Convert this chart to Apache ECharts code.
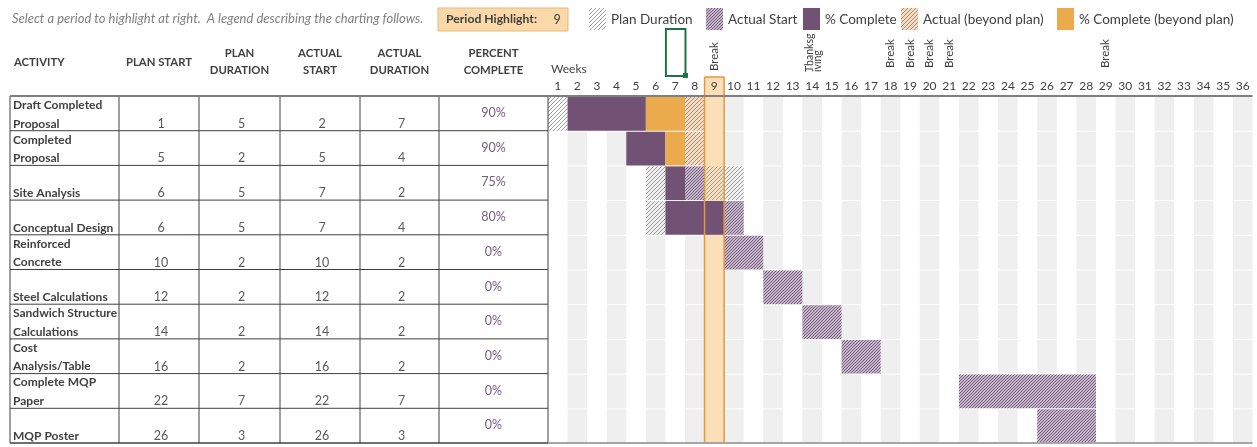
<!DOCTYPE html>
<html>
<head>
<meta charset="utf-8">
<script src="https://cdn.jsdelivr.net/npm/echarts/dist/echarts.min.js"></script>
<style>
  html, body { margin: 0; padding: 0; background: #fff; }
  #main { width: 1257px; height: 447px; }
</style>
</head>
<body>
<div id="main"></div>
<script>
// data
const activities = ['Draft Completed\nProposal', 'Completed\nProposal', 'Site Analysis', 'Conceptual Design',
  'Reinforced\nConcrete', 'Steel Calculations', 'Sandwich Structure\nCalculations', 'Cost\nAnalysis/Table',
  'Complete MQP\nPaper', 'MQP Poster'];
const planStart = [1, 5, 6, 6, 10, 12, 14, 16, 22, 26];
const planDuration = [5, 2, 5, 5, 2, 2, 2, 2, 7, 3];
const actualStart = [2, 5, 7, 7, 10, 12, 14, 16, 22, 26];
const actualDuration = [7, 4, 2, 4, 2, 2, 2, 2, 7, 3];
const percentComplete = [90, 90, 75, 80, 0, 0, 0, 0, 0, 0];
const weeks = ['1', '2', '3', '4', '5', '6', '7', '8', '9', '10', '11', '12', '13', '14', '15', '16', '17', '18',
  '19', '20', '21', '22', '23', '24', '25', '26', '27', '28', '29', '30', '31', '32', '33', '34', '35', '36'];
const noteWeeks = [9, 14, 18, 19, 20, 21, 29];
const noteTexts = ['Break', 'Thanksg\niving', 'Break', 'Break', 'Break', 'Break', 'Break'];
const periodHighlight = 9;

const FONT = 'Lato, "Liberation Sans", sans-serif';
const TXT = '#404040';
const PURPLE = '#715174';
const ORANGE = '#ebaa4c';

//斜线填充
function hatch(bg, line, step, lw) {
  const c = document.createElement('canvas');
  c.width = step; c.height = step;
  const g = c.getContext('2d');
  if (bg) { g.fillStyle = bg; g.fillRect(0, 0, step, step); }
  g.strokeStyle = line;
  g.lineWidth = lw;
  g.beginPath();
  g.moveTo(-1, step + 1); g.lineTo(step + 1, -1);
  g.moveTo(-1, 1); g.lineTo(1, -1);
  g.moveTo(step - 1, step + 1); g.lineTo(step + 1, step - 1);
  g.stroke();
  return { image: c, repeat: 'repeat' };
}
const planFill = hatch(null, '#9b9b9b', 4, 1);
const actualFill = hatch('#c6b7ca', '#755c7e', 3, 1);
const beyondFill = hatch('#f3dcc2', '#a98b76', 4, 1);

// which kind of cell a week is for a row
function cellType(r, w) {
  const inPlan = w >= planStart[r] && w < planStart[r] + planDuration[r];
  const inActual = w >= actualStart[r] && w < actualStart[r] + actualDuration[r];
  const done = inActual && w + 1 <= actualStart[r] + actualDuration[r] * percentComplete[r] / 100 + 1e-9;
  if (done) return inPlan ? 'complete' : 'completeBeyond';
  if (inActual) return inPlan ? 'actual' : 'actualBeyond';
  if (inPlan) return 'plan';
  return null;
}

// merge consecutive cells into spans [weekIndex, row, length]
const spans = { plan: [], actual: [], complete: [], actualBeyond: [], completeBeyond: [] };
activities.forEach(function (a, r) {
  let cur = null;
  weeks.forEach(function (wk, i) {
    const t = cellType(r, i + 1);
    if (cur && cur.t === t) { cur.len++; return; }
    if (cur && cur.t) spans[cur.t].push([cur.i, r, cur.len]);
    cur = { t: t, i: i, len: 1 };
  });
  if (cur && cur.t) spans[cur.t].push([cur.i, r, cur.len]);
});

// grey stripes on even weeks
const stripes = [];
weeks.forEach(function (wk, i) {
  if ((i + 1) % 2 === 0) activities.forEach(function (a, r) { stripes.push([i, r, 1]); });
});

function spanItem(fill) {
  return function (params, api) {
    const c = api.coord([api.value(0), api.value(1)]);
    const s = api.size([1, 1]);
    return {
      type: 'rect',
      shape: { x: c[0] - s[0] / 2, y: c[1] - s[1] / 2 + 1, width: s[0] * api.value(2), height: s[1] - 1 },
      style: { fill: fill }
    };
  };
}

const option = {
  animation: false,
  textStyle: { fontFamily: FONT },
  grid: { left: 548, right: 4.5, top: 96, bottom: 4 },
  xAxis: {
    type: 'category', data: weeks, position: 'top', z: 10,
    axisLine: { show: false }, axisTick: { show: false }, splitLine: { show: false },
    axisLabel: { color: TXT, fontSize: 12, fontFamily: FONT, margin: 4, interval: 0 }
  },
  yAxis: { type: 'category', data: activities, inverse: true, show: false },
  series: [
    { type: 'custom', name: 'stripes', z: 1, renderItem: spanItem('#efefef'), data: stripes, encode: { x: 0, y: 1 } },
    {
      type: 'custom', name: 'highlight', z: 1, clip: false, data: [[periodHighlight - 1, 0]], encode: { x: 0, y: 1 },
      renderItem: function (params, api) {
        const cs = params.coordSys;
        const x = api.coord([api.value(0), 0])[0];
        const w = api.size([1, 1])[0];
        return { type: 'rect', shape: { x: x - w / 2, y: cs.y - 19, width: w, height: cs.height + 19 }, style: { fill: '#fcdfb8' } };
      }
    },
    { type: 'custom', name: 'Plan Duration', z: 2, renderItem: spanItem(planFill), data: spans.plan, encode: { x: 0, y: 1 } },
    { type: 'custom', name: 'Actual Start', z: 2, renderItem: spanItem(actualFill), data: spans.actual, encode: { x: 0, y: 1 } },
    { type: 'custom', name: '% Complete', z: 2, renderItem: spanItem(PURPLE), data: spans.complete, encode: { x: 0, y: 1 } },
    { type: 'custom', name: 'Actual (beyond plan)', z: 2, renderItem: spanItem(beyondFill), data: spans.actualBeyond, encode: { x: 0, y: 1 } },
    { type: 'custom', name: '% Complete (beyond plan)', z: 2, renderItem: spanItem(ORANGE), data: spans.completeBeyond, encode: { x: 0, y: 1 } },
    {
      type: 'custom', name: 'highlightBorder', z: 3, clip: false, data: [[periodHighlight - 1, 0]], encode: { x: 0, y: 1 },
      renderItem: function (params, api) {
        const cs = params.coordSys;
        const x = api.coord([api.value(0), 0])[0];
        const w = api.size([1, 1])[0];
        const st = { stroke: '#e29a3c', lineWidth: 1.5 };
        return {
          type: 'group', children: [
            { type: 'line', shape: { x1: x - w / 2, y1: cs.y - 19, x2: x - w / 2, y2: cs.y + cs.height }, style: st },
            { type: 'line', shape: { x1: x + w / 2, y1: cs.y - 19, x2: x + w / 2, y2: cs.y + cs.height }, style: st },
            { type: 'line', shape: { x1: x - w / 2, y1: cs.y - 19, x2: x + w / 2, y2: cs.y - 19 }, style: st }
          ]
        };
      }
    }
  ]
};

const myChart = echarts.init(document.getElementById('main'));
myChart.setOption(option);

// table, legend and header notes placed from the axes
function txt(x, y, text, o) {
  o = o || {};
  return {
    type: 'text', x: x, y: y, rotation: o.rotation || 0, z: 20,
    style: {
      text: text, fill: o.fill || TXT, fontFamily: FONT, fontSize: o.size || 12,
      fontWeight: o.bold ? 'bold' : 'normal', fontStyle: o.italic ? 'italic' : 'normal',
      align: o.align || 'left', verticalAlign: o.va || 'middle', lineHeight: o.lh
    }
  };
}
function line(x1, y1, x2, y2, color, w) {
  return { type: 'line', z: 20, shape: { x1: x1, y1: y1, x2: x2, y2: y2 }, style: { stroke: color, lineWidth: w || 1 } };
}
function rect(x, y, w, h, fill, stroke) {
  return { type: 'rect', z: 20, shape: { x: x, y: y, width: w, height: h }, style: { fill: fill, stroke: stroke || null } };
}

const rowC = function (i) { return myChart.convertToPixel({ yAxisIndex: 0 }, i); };
const weekC = function (w) { return myChart.convertToPixel({ xAxisIndex: 0 }, w - 1); };
const rowH = rowC(1) - rowC(0);
const gridTop = rowC(0) - rowH / 2;
const gridBottom = rowC(activities.length - 1) + rowH / 2;
const weekW = weekC(2) - weekC(1);
const chartRight = weekC(weeks.length) + weekW / 2;

const colX = [10, 119, 199, 280, 360, 439, 548];
const colMid = [14, 159, 239.5, 320, 399.5, 493.5];
const g = [];

// hint + period highlight
g.push(txt(12, 19, 'Select a period to highlight at right.  A legend describing the charting follows.', { italic: true, fill: '#7f7f7f', size: 13 }));
g.push(rect(438, 8, 130, 23, '#fbd8a8', '#eab77a'));
g.push(txt(446, 19.5, 'Period Highlight:', { bold: true, size: 12.2 }));
g.push(txt(557, 19.5, String(periodHighlight), { align: 'center', size: 12.5 }));

// legend
const legendItems = [
  [589, planFill, 'Plan Duration'], [706, actualFill, 'Actual Start'], [803, PURPLE, '% Complete'],
  [901, beyondFill, 'Actual (beyond plan)'], [1057, ORANGE, '% Complete (beyond plan)']
];
legendItems.forEach(function (it) {
  g.push(rect(it[0], 8, 17, 22, it[1]));
  g.push(txt(it[0] + 22, 19.5, it[2], { size: 13.5 }));
});

// excel selection box
g.push({ type: 'rect', z: 20, shape: { x: weekC(7) - weekW / 2 + 0.5, y: 29, width: weekW, height: 47 }, style: { fill: null, stroke: '#217346', lineWidth: 2 } });
g.push(rect(weekC(7) + weekW / 2 - 2, 73, 5, 5, '#217346'));

// header notes
noteWeeks.forEach(function (w, k) {
  const two = noteTexts[k].indexOf('\n') >= 0;
  g.push(txt(weekC(w) + (two ? 1 : 0), w === 9 ? 71 : (two ? 72 : 68), noteTexts[k], {
    rotation: Math.PI / 2, size: two ? 10.5 : 11.5, lh: two ? 8 : 12, align: 'left'
  }));
});
g.push(txt(551, 69, 'Weeks', { size: 12 }));

// table header
g.push(txt(colMid[0], 62, 'ACTIVITY', { bold: true, size: 11.3 }));
g.push(txt(colMid[1], 62, 'PLAN START', { bold: true, size: 11.3, align: 'center' }));
g.push(txt(colMid[2], 62, 'PLAN\nDURATION', { bold: true, size: 11.3, align: 'center', lh: 17 }));
g.push(txt(colMid[3], 62, 'ACTUAL\nSTART', { bold: true, size: 11.3, align: 'center', lh: 17 }));
g.push(txt(colMid[4], 62, 'ACTUAL\nDURATION', { bold: true, size: 11.3, align: 'center', lh: 17 }));
g.push(txt(colMid[5], 62, 'PERCENT\nCOMPLETE', { bold: true, size: 11.3, align: 'center', lh: 17 }));

// table body
activities.forEach(function (a, r) {
  const y0 = rowC(r) - rowH / 2;
  const y1 = y0 + rowH;
  const parts = a.split('\n');
  if (parts.length > 1) g.push(txt(13, y0 + 9, parts[0], { bold: true, size: 12 }));
  g.push(txt(13, y1 - 7, parts[parts.length - 1], { bold: true, size: 12 }));
  [planStart[r], planDuration[r], actualStart[r], actualDuration[r]].forEach(function (v, k) {
    g.push(txt(colMid[k + 1] + 2, y1 - 7, String(v), { fill: '#595959', align: 'center', size: 12.5 }));
  });
  g.push(txt(colMid[5], y0 + 17, percentComplete[r] + '%', { fill: '#7a5a80', align: 'center', size: 12.5 }));
  if (r > 0) g.push(line(colX[0], y0, colX[6], y0, '#404040', 1));
});
colX.forEach(function (x) { g.push(line(x, gridTop, x, gridBottom, '#404040', 1)); });
g.push(line(colX[0], gridBottom, colX[6], gridBottom, '#404040', 1.5));
g.push(line(colX[6], gridBottom, chartRight, gridBottom, '#a6a6a6', 2));
g.push(line(colX[0], gridTop, chartRight, gridTop, '#7f7f7f', 2));

myChart.setOption({ graphic: g });

window.addEventListener('resize', function () {
  myChart.resize();
});
</script>
</body>
</html>
